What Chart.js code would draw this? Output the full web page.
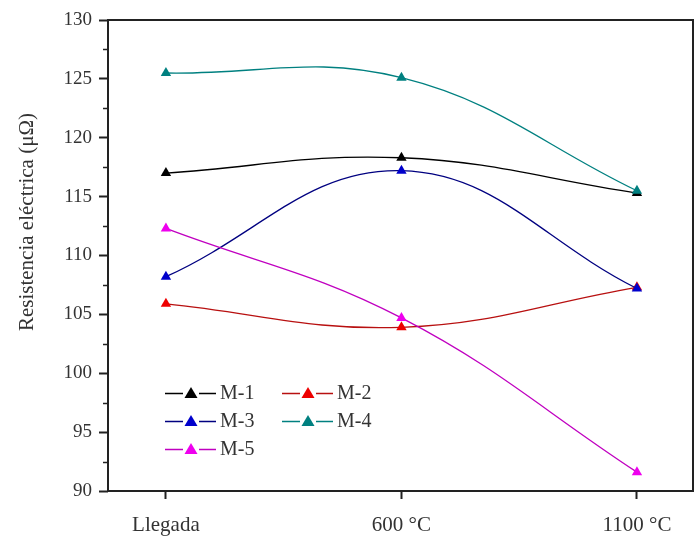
<!DOCTYPE html>
<html>
<head>
<meta charset="utf-8">
<script src="https://cdn.jsdelivr.net/npm/chart.js@4.4.1/dist/chart.umd.min.js"></script>
<style>
  html, body { margin: 0; padding: 0; background: #fff; }
  #wrap { width: 694px; height: 548px; }
</style>
</head>
<body>
<div id="wrap"><canvas id="chart"></canvas></div>
<script>
var categories = ['Llegada', '600 °C', '1100 °C'];
var seriesNames = ['M-1', 'M-2', 'M-3', 'M-4', 'M-5'];
var m1 = [117.0, 118.3, 115.3];
var m2 = [105.9, 103.9, 107.3];
var m3 = [108.2, 117.2, 107.2];
var m4 = [125.5, 125.1, 115.5];
var m5 = [112.3, 104.7, 91.6];
var yTicks = [90, 95, 100, 105, 110, 115, 120, 125, 130];
var yTitle = 'Resistencia eléctrica (μΩ)';

var lineColors = ['#000000', '#b81010', '#000080', '#008080', '#c000c0'];
var markColors = ['#000000', '#ee0000', '#0000cc', '#008080', '#ee00ee'];
var allValues = [m1, m2, m3, m4, m5];

var datasets = allValues.map(function(vals, i) {
    return {
        label: seriesNames[i],
        data: vals.map(function(v, j) { return {x: j, y: v}; }),
        order: allValues.length - 1 - i,   // later series on top, like the original
        borderColor: lineColors[i],
        backgroundColor: markColors[i],
        borderWidth: 1.3,
        tension: 0.4,
        pointStyle: 'triangle',
        pointRadius: 6,
        pointBorderWidth: 0,
        pointBackgroundColor: markColors[i]
    };
});

var serif = '"Liberation Serif", "Times New Roman", serif';

// frame, minor ticks, y title and the in-plot legend
var extras = {
    id: 'extras',
    afterDraw: function(chart) {
        var ctx = chart.ctx;
        var a = chart.chartArea;
        var ys = chart.scales.y;
        ctx.save();
        ctx.strokeStyle = '#222';
        ctx.lineWidth = 2;
        ctx.strokeRect(a.left, a.top, a.right - a.left, a.bottom - a.top);
        ctx.lineWidth = 1.5;
        for (var v = 92.5; v < 130; v += 5) {
            var py = Math.round(ys.getPixelForValue(v)) + 0.5;
            ctx.beginPath();
            ctx.moveTo(a.left - 5, py);
            ctx.lineTo(a.left, py);
            ctx.stroke();
        }
        // y title
        ctx.save();
        ctx.translate(27, 222);
        ctx.rotate(-Math.PI / 2);
        ctx.font = '21px ' + serif;
        ctx.fillStyle = '#333';
        ctx.textAlign = 'center';
        ctx.textBaseline = 'middle';
        ctx.fillText(yTitle, 0, 0);
        ctx.restore();
        // legend
        var cols = [165, 282];
        var rows = [393, 421, 449];
        ctx.font = '20px ' + serif;
        ctx.textBaseline = 'middle';
        chart.data.datasets.forEach(function(ds, i) {
            var x0 = cols[i % 2];
            var y0 = rows[Math.floor(i / 2)];
            ctx.strokeStyle = ds.borderColor;
            ctx.lineWidth = 1.5;
            ctx.beginPath();
            ctx.moveTo(x0, y0 + 0.5);
            ctx.lineTo(x0 + 18, y0 + 0.5);
            ctx.moveTo(x0 + 34, y0 + 0.5);
            ctx.lineTo(x0 + 51, y0 + 0.5);
            ctx.stroke();
            ctx.fillStyle = ds.pointBackgroundColor;
            ctx.beginPath();
            ctx.moveTo(x0 + 26, y0 - 6);
            ctx.lineTo(x0 + 32.5, y0 + 5);
            ctx.lineTo(x0 + 19.5, y0 + 5);
            ctx.closePath();
            ctx.fill();
            ctx.fillStyle = '#333';
            ctx.fillText(ds.label, x0 + 55, y0 + 1);
        });
        ctx.restore();
    }
};

new Chart(document.getElementById('chart'), {
    type: 'line',
    data: { datasets: datasets },
    options: {
        responsive: true,
        maintainAspectRatio: false,
        animation: false,
        layout: { autoPadding: false, padding: { top: 20, right: 1, left: 0, bottom: 0 } },
        plugins: {
            legend: { display: false },
            tooltip: { enabled: false }
        },
        scales: {
            x: {
                type: 'linear',
                min: -0.246,
                max: 2.238,
                afterFit: function(s) {
                    s.height = 57;
                    s.paddingLeft = 0;
                    s.paddingRight = 0;
                },
                afterBuildTicks: function(s) {
                    s.ticks = categories.map(function(c, i) { return {value: i}; });
                },
                grid: { drawOnChartArea: false, tickLength: 8, tickWidth: 2, color: '#222' },
                border: { display: false },
                ticks: {
                    color: '#333',
                    font: { family: serif, size: 21 },
                    padding: 14,
                    maxRotation: 0,
                    callback: function(v) { return categories[v]; }
                }
            },
            y: {
                min: 90,
                max: 130,
                afterFit: function(s) {
                    s.width = 108;
                    s.paddingTop = 0;
                    s.paddingBottom = 0;
                },
                afterBuildTicks: function(s) {
                    s.ticks = yTicks.map(function(v) { return {value: v}; });
                },
                grid: { drawOnChartArea: false, tickLength: 9, tickWidth: 2, color: '#222' },
                border: { display: false },
                ticks: {
                    color: '#333',
                    font: { family: serif, size: 19 },
                    padding: 7
                }
            }
        }
    },
    plugins: [extras]
});
</script>
</body>
</html>
